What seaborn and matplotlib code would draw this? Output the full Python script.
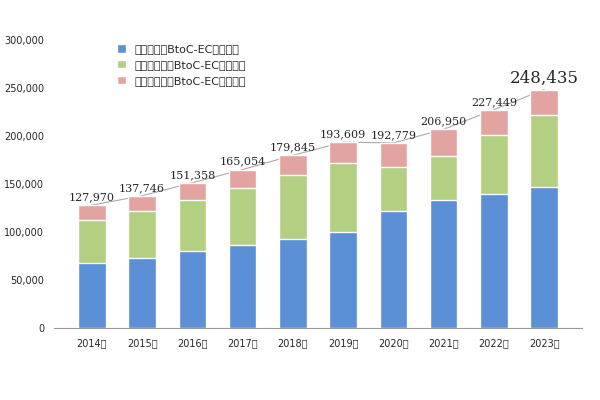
import numpy as np
import pandas as pd
import matplotlib
matplotlib.use("Agg")
import matplotlib.pyplot as plt
import seaborn as sns

years = ["2014年", "2015年", "2016年", "2017年", "2018年", "2019年", "2020年", "2021年", "2022年", "2023年"]
goods = [68043, 72398, 80043, 86008, 92992, 100515, 122333, 132865, 139997, 146760]
services = [44816, 49014, 53532, 59568, 66471, 71672, 45832, 46424, 61477, 75169]
digital = [15111, 16334, 17782, 19478, 20382, 21422, 24614, 27661, 25974, 26506]
totals = [127970, 137746, 151358, 165054, 179845, 193609, 192779, 206950, 227449, 248435]
series_names = ["物販系分野BtoC-EC市場規模", "サービス分野BtoC-EC市場規模", "デジタル分野BtoC-EC市場規模"]

plt.rcParams["font.family"] = ["Noto Sans CJK JP", "DejaVu Sans"]
sns.set_style("white")

fig = plt.figure(figsize=(6, 4), dpi=100)
ax = fig.add_axes([0.09, 0.18, 0.88, 0.72])

colors = ["#5b8fd6", "#b3cf82", "#e3a3a0"]
x = np.arange(len(years))
bottom = np.zeros(len(years))
for vals, name, c in zip([goods, services, digital], series_names, colors):
    df = pd.DataFrame({"year": years, "v": np.array(vals) + bottom})
    sns.barplot(data=df, x="year", y="v", color=c, saturation=1, width=0.55, ax=ax, label=name)
    bottom += np.array(vals)

# cumulative bars: draw taller ones behind
for i, cont in enumerate(ax.containers):
    for p in cont:
        p.set_zorder(5 - i)

ax.plot(x, totals, color="#aaaaaa", lw=0.8, zorder=1)
for i, t in enumerate(totals):
    fs = 12 if i == len(totals) - 1 else 8
    ax.text(i, t + 3000, f"{t:,}", ha="center", va="bottom", fontsize=fs, family="serif")

ax.set_ylim(0, 300000)
ax.set_yticks(range(0, 300001, 50000))
ax.set_yticklabels([f"{v:,}" for v in range(0, 300001, 50000)], fontsize=7)
ax.tick_params(axis="x", labelsize=7)
ax.set_xlabel("")
ax.set_ylabel("")
for s in ["top", "right", "left"]:
    ax.spines[s].set_visible(False)
ax.spines["bottom"].set_color("#999999")
ax.legend(loc="upper left", bbox_to_anchor=(0.1, 1.02), frameon=False, fontsize=8, handlelength=0.8, handleheight=0.8)

fig.savefig("out.png", dpi=100)
